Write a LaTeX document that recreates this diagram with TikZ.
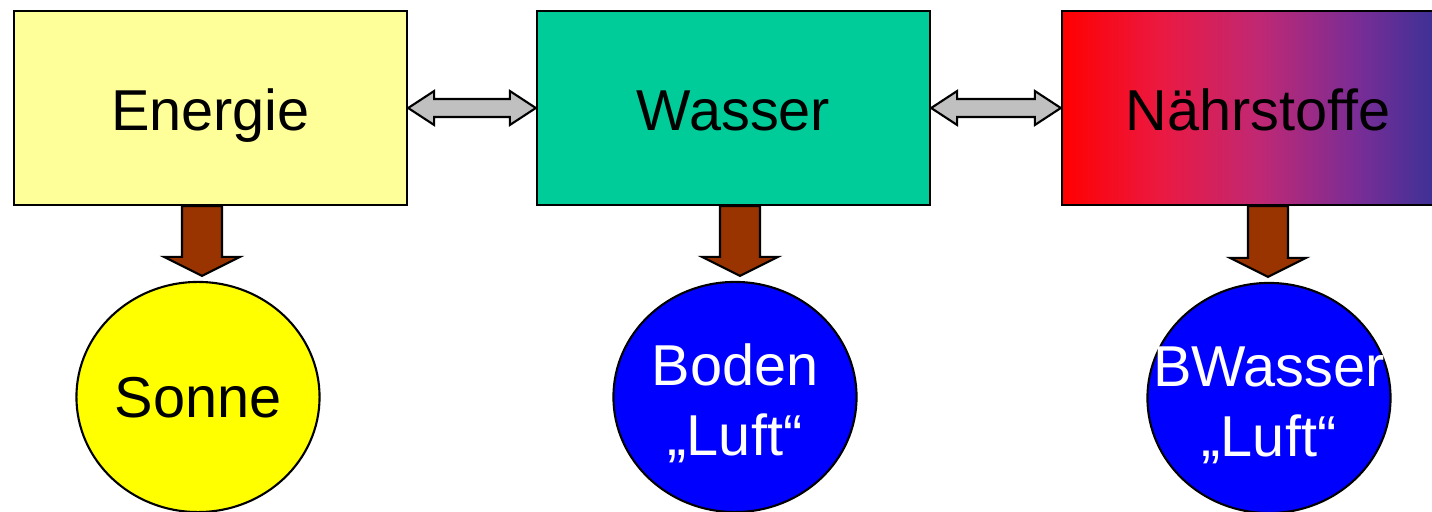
\documentclass[tikz,border=0pt]{standalone}
\usepackage{fontspec}
\setmainfont{Liberation Sans}
\usetikzlibrary{shapes.geometric,calc}
\definecolor{hellgelb}{RGB}{255,255,153}
\definecolor{sonnengelb}{RGB}{255,255,0}
\definecolor{kreisblau}{RGB}{0,0,255}
\definecolor{rot}{RGB}{255,0,0}
\definecolor{tuerkis}{RGB}{0,204,153}
\definecolor{braun}{RGB}{153,51,0}
\definecolor{grau}{RGB}{192,192,192}
\definecolor{verlaufa}{RGB}{235,25,65}
\definecolor{verlaufb}{RGB}{192,40,115}
\definecolor{verlaufc}{RGB}{122,45,150}
\definecolor{verlaufd}{RGB}{45,50,150}
\pgfdeclarehorizontalshading{naehrverlauf}{100bp}{color(0bp)=(rot); color(25bp)=(rot); color(37.5bp)=(verlaufa);
  color(50bp)=(verlaufb); color(62.5bp)=(verlaufc); color(75bp)=(verlaufd); color(100bp)=(verlaufd)}
\tikzset{
  kasten/.style={draw=black, line width=0.6pt, minimum width=3.93cm, minimum height=1.94cm, inner sep=0pt, text height=13pt, text depth=0pt, font=\fontsize{16.4}{19.7}\selectfont},
  kreis/.style={draw=black, line width=0.6pt, ellipse, minimum width=2.43cm, minimum height=2.30cm, inner sep=0pt, align=center, text depth=0pt, font=\fontsize{16.4}{19.9}\selectfont},
  zweizeilig/.style={text=white, text height=33.5pt},
  grauerpfeil/.style={fill=grau, draw=black, line width=0.6pt},
  braunerpfeil/.style={fill=braun, draw=black, line width=0.6pt}
}
\newcommand\doppelpfeil[2]{%
  \draw[grauerpfeil] (#1.east) -- ++(26,-17) -- ++(0,8) -- ($(#2.west)+(-26,-9)$) -- ++(0,-8) -- (#2.west)
    -- ++(-26,17) -- ++(0,-8) -- ($(#1.east)+(26,9)$) -- ++(0,8) -- cycle;}
\newcommand\abwaerts[3]{%
  \draw[braunerpfeil] ($(#1.south -| #2.north)+(#3-20,0)$) -- ($(#2.north)+(#3-20,-24)$) -- ++(-18,0)
    -- ($(#2.north)+(#3,-5)$) -- ($(#2.north)+(#3+38,-24)$) -- ++(-18,0) -- ($(#1.south -| #2.north)+(#3+20,0)$) -- cycle;}
\begin{document}
\begin{tikzpicture}[x=0.01cm, y=-0.01cm]
    \useasboundingbox (0,0) rectangle (1432,512);
    \clip (0,0) rectangle (1432,512);
    % obere Reihe
    \node[kasten, fill=hellgelb] (energie) at (210.5,108) {Energie};
    \node[kasten, fill=tuerkis] (wasser) at (733.5,108) {Wasser};
    \node[kasten, shading=naehrverlauf] (naehr) at (1258.5,108) {N\"ahrstoffe};
    % untere Reihe
    \node[kreis, fill=sonnengelb] (sonne) at (198,397) {Sonne};
    \node[kreis, fill=kreisblau, zweizeilig] (boden) at (735,397) {Boden\\\char"201E Luft\char"201C};
    \node[kreis, fill=kreisblau, zweizeilig] (bwasser) at (1269,398) {\makebox[0pt]{BWasser}\\\char"201E Luft\char"201C};
    % Pfeile
    \doppelpfeil{energie}{wasser}
    \doppelpfeil{wasser}{naehr}
    \abwaerts{energie}{sonne}{4}
    \abwaerts{wasser}{boden}{5}
    \abwaerts{naehr}{bwasser}{-1}
\end{tikzpicture}
\end{document}
